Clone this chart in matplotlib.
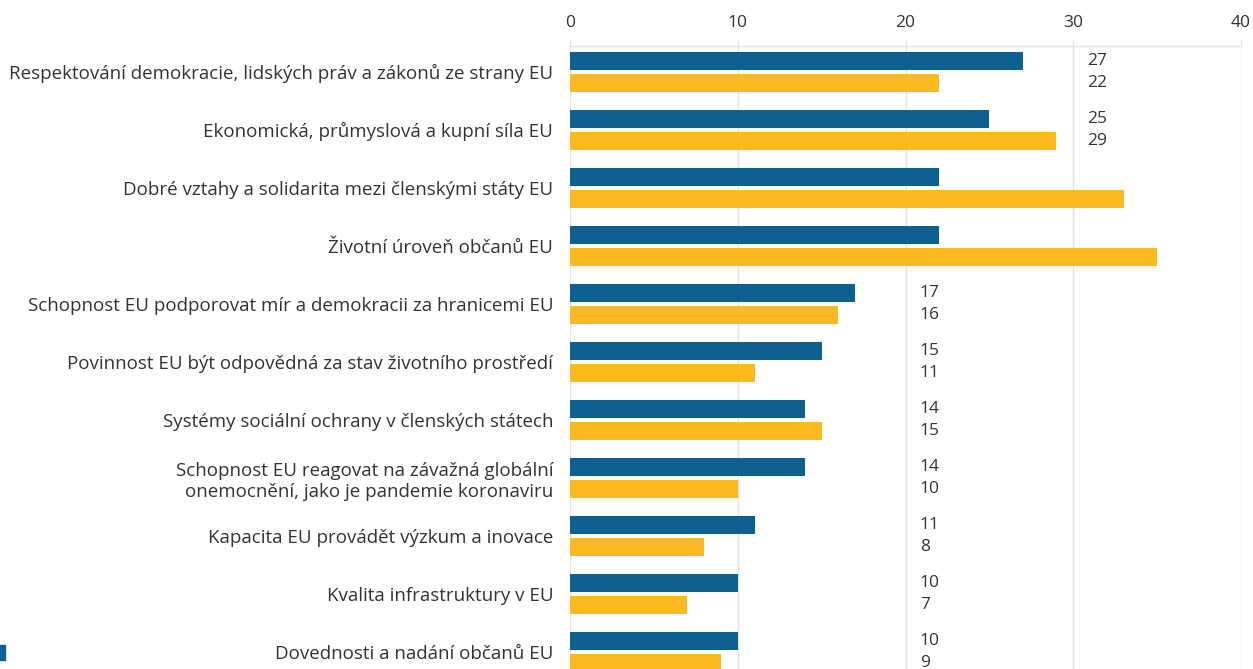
import matplotlib
matplotlib.use("Agg")
import matplotlib.pyplot as plt
from matplotlib.patches import Rectangle
import numpy as np

categories = [
    "Respektování demokracie, lidských práv a zákonů ze strany EU",
    "Ekonomická, průmyslová a kupní síla EU",
    "Dobré vztahy a solidarita mezi členskými státy EU",
    "Životní úroveň občanů EU",
    "Schopnost EU podporovat mír a demokracii za hranicemi EU",
    "Povinnost EU být odpovědná za stav životního prostředí",
    "Systémy sociální ochrany v členských státech",
    "Schopnost EU reagovat na závažná globální\nonemocnění, jako je pandemie koronaviru",
    "Kapacita EU provádět výzkum a inovace",
    "Kvalita infrastruktury v EU",
    "Dovednosti a nadání občanů EU",
]
series_blue = [27, 25, 22, 22, 17, 15, 14, 14, 11, 10, 10]
series_yellow = [22, 29, 33, 35, 16, 11, 15, 10, 8, 7, 9]
xticks = [0, 10, 20, 30, 40]

BLUE = "#0e6090"
YELLOW = "#fbba21"
TEXT = "#333333"
GRID = "#e3e3e3"
FONT = "Open Sans"

plt.rcParams['font.family'] = [FONT, 'DejaVu Sans']

W, H = 1253, 669
fig = plt.figure(figsize=(W / 100, H / 100), dpi=100)
ax_left, ax_right = 570, 1241
ax_top = 46
unit = 58.0
ylim_top = -0.448
ylim_bot = 11.0
ax_h_px = (ylim_bot - ylim_top) * unit
ax = fig.add_axes([ax_left / W, 1 - (ax_top + ax_h_px) / H, (ax_right - ax_left) / W, ax_h_px / H])

y = np.arange(len(categories))
off = 0.19
bh = 0.315
ax.barh(y - off, series_blue, height=bh, color=BLUE, zorder=3)
ax.barh(y + off, series_yellow, height=bh, color=YELLOW, zorder=3)

for i, (b, yv) in enumerate(zip(series_blue, series_yellow)):
    m = max(b, yv)
    lx = 30.8 if m > 20 else 20.85
    if m > lx:
        continue
    ax.text(lx, i - off, str(b), ha="left", va="center", fontsize=12.5, color=TEXT)
    ax.text(lx, i + off, str(yv), ha="left", va="center", fontsize=12.5, color=TEXT)

ax.set_xlim(0, 40)
ax.set_ylim(ylim_bot, ylim_top)
ax.set_xticks(xticks)
ax.set_xticklabels([str(t) for t in xticks])
ax.xaxis.tick_top()
ax.tick_params(axis="x", length=5, color=GRID, labelsize=12.5, labelcolor=TEXT, pad=6)
ax.set_yticks(y)
ax.set_yticklabels(categories, fontsize=13.5, color=TEXT, ha="right", multialignment="right")
ax.tick_params(axis="y", length=0, pad=12)
ax.grid(axis="x", color=GRID, linewidth=1, zorder=0)
for s in ["right", "bottom", "left"]:
    ax.spines[s].set_visible(False)
ax.spines["top"].set_color(GRID)
ax.spines["top"].set_linewidth(1)

# partially visible legend marker at bottom-left
fig.patches.append(Rectangle((0, 1 - 660 / H), 5 / W, 15 / H, transform=fig.transFigure,
                             color=BLUE, figure=fig))

fig.savefig("out.png", dpi=100)
